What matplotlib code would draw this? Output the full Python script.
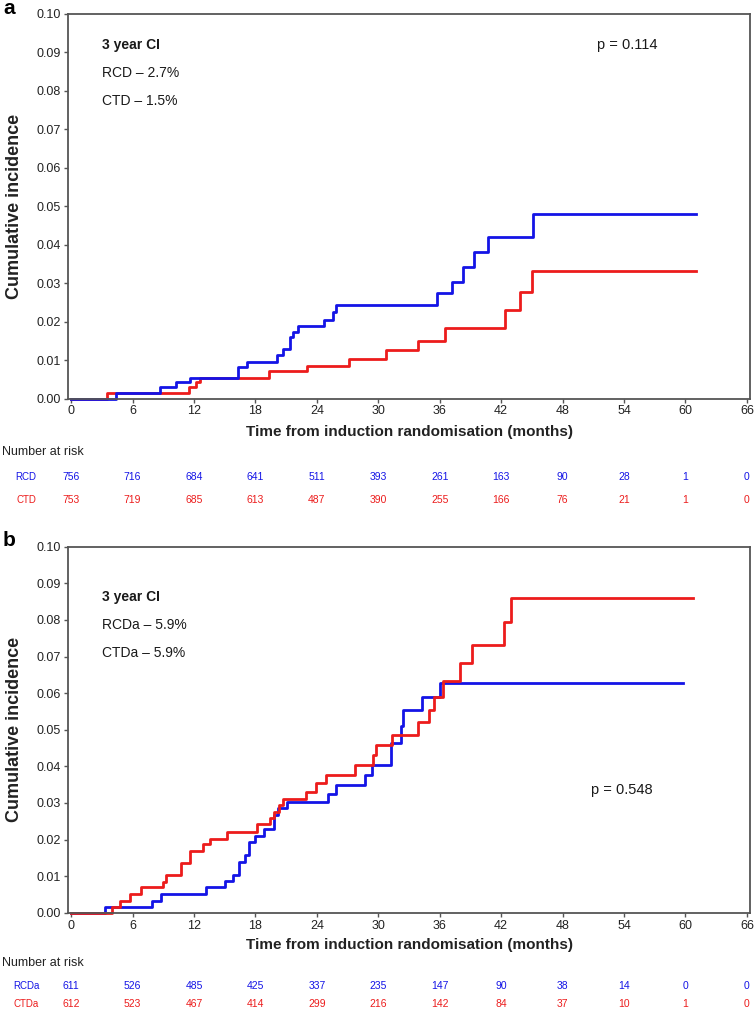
import matplotlib
matplotlib.use("Agg")
import matplotlib.pyplot as plt
from matplotlib.transforms import blended_transform_factory

# ---- panel a : cumulative incidence (months, value) ----
rcd_t = [0, 4.4, 8.7, 10.2, 11.6, 16.3, 17.2, 20.1, 20.7, 21.4, 21.7, 22.2, 24.7, 25.6, 25.9,
         35.7, 37.2, 38.3, 39.3, 40.7, 45.1, 61.0]
rcd_ci = [0, 0.0015, 0.0029, 0.0042, 0.0054, 0.0083, 0.0096, 0.0112, 0.0128, 0.0159, 0.0174, 0.0188,
          0.0205, 0.0225, 0.0244, 0.0274, 0.0304, 0.0342, 0.0381, 0.0420, 0.0480, 0.0480]
ctd_t = [0, 3.5, 11.5, 12.2, 12.6, 19.3, 23.0, 27.1, 30.8, 33.9, 36.5, 42.4, 43.8, 45.0, 61.0]
ctd_ci = [0, 0.0015, 0.0029, 0.0042, 0.0054, 0.0071, 0.0085, 0.0103, 0.0126, 0.0150, 0.0183,
          0.0229, 0.0278, 0.0332, 0.0332]

# ---- panel b ----
rcda_t = [0, 3.3, 7.9, 8.8, 13.2, 15.0, 15.8, 16.4, 17.0, 17.4, 18.0, 18.8, 19.8, 20.2, 21.1,
          25.1, 25.9, 28.7, 29.4, 31.2, 32.2, 32.4, 34.3, 36.0, 59.8]
rcda_ci = [0, 0.0016, 0.0033, 0.0051, 0.0069, 0.0087, 0.0103, 0.0139, 0.0158, 0.0194, 0.0210,
           0.0228, 0.0267, 0.0285, 0.0303, 0.0324, 0.0349, 0.0376, 0.0404, 0.0463, 0.0510,
           0.0554, 0.0590, 0.0627, 0.0627]
ctda_t = [0, 4.0, 4.8, 5.8, 6.8, 9.0, 9.3, 10.7, 11.6, 12.9, 13.6, 15.2, 18.2, 19.4, 19.8, 20.3,
          20.7, 22.9, 23.9, 24.9, 27.7, 29.5, 29.8, 31.3, 33.9, 35.0, 35.4, 36.3, 38.0, 39.2,
          42.3, 43.0, 60.7]
ctda_ci = [0, 0.0016, 0.0033, 0.0051, 0.0069, 0.0085, 0.0103, 0.0137, 0.0169, 0.0188, 0.0201,
           0.0221, 0.0242, 0.0258, 0.0276, 0.0294, 0.0312, 0.0331, 0.0354, 0.0376, 0.0404,
           0.0431, 0.0458, 0.0486, 0.0522, 0.0554, 0.0590, 0.0633, 0.0681, 0.0731, 0.0795,
           0.0861, 0.0861]

# number at risk
risk_times = [0, 6, 12, 18, 24, 30, 36, 42, 48, 54, 60, 66]
rcd_risk = [756, 716, 684, 641, 511, 393, 261, 163, 90, 28, 1, 0]
ctd_risk = [753, 719, 685, 613, 487, 390, 255, 166, 76, 21, 1, 0]
rcda_risk = [611, 526, 485, 425, 337, 235, 147, 90, 38, 14, 0, 0]
ctda_risk = [612, 523, 467, 414, 299, 216, 142, 84, 37, 10, 1, 0]

BLUE = "#1414e6"
RED = "#ec1c1c"
NARROW = ["Liberation Sans Narrow", "Liberation Sans", "DejaVu Sans"]
ARIAL = ["Liberation Sans", "DejaVu Sans"]
INK = "#1a1a1a"

W, H = 756, 1013
fig = plt.figure(figsize=(W / 100, H / 100), dpi=100)


def fy(px):
    # pixel row -> figure fraction
    return 1 - px / H


def panel(letter, top, bottom, t1, c1, t2, c2, names, cis, pval, pxy, risk1, risk2,
          xlab_y, nar_y, r1_y, r2_y, ci_y, red_under):
    ax = fig.add_axes([68 / W, fy(bottom), 682 / W, (bottom - top) / H])
    if red_under:
        ax.step(t2, c2, where="post", color=RED, lw=2.0, clip_on=False)
        ax.step(t1, c1, where="post", color=BLUE, lw=2.0, clip_on=False)
    else:
        ax.step(t1, c1, where="post", color=BLUE, lw=2.0, clip_on=False)
        ax.step(t2, c2, where="post", color=RED, lw=2.0, clip_on=False)
    ax.set_xlim(-0.3, 66.3)
    ax.set_ylim(0, 0.1)
    ax.set_xticks(risk_times)
    ax.set_yticks([i / 100 for i in range(11)])
    ax.set_yticklabels(["%.2f" % (i / 100) for i in range(11)])
    for s in ax.spines.values():
        s.set_color("#555555")
        s.set_linewidth(1.3)
    ax.tick_params(direction="out", length=3, width=1, color="#555555", labelsize=9,
                   labelcolor="#222222", pad=2)
    for lab in ax.get_xticklabels() + ax.get_yticklabels():
        lab.set_family(NARROW)

    # 3 year CI block and p value
    h = bottom - top
    ax.text(0.05, 1 - (ci_y - top) / h, "3 year CI", transform=ax.transAxes, fontsize=10,
            fontweight="bold", family=ARIAL, va="center", color=INK)
    for k in range(2):
        ax.text(0.05, 1 - (ci_y + 28 * (k + 1) - top) / h, names[k] + " \u2013 " + cis[k],
                transform=ax.transAxes, fontsize=10, family=ARIAL, va="center", color=INK)
    ax.text((pxy[0] - 68) / 682, 1 - (pxy[1] - top) / h, "p = " + pval,
            transform=ax.transAxes, fontsize=10.5, family=ARIAL, ha="center", va="center",
            color=INK)

    fig.text(3 / W, fy(top - 6), letter, fontsize=15, fontweight="bold", family=ARIAL,
             va="center", ha="left")
    fig.text(15 / W, fy((top + bottom) / 2), "Cumulative incidence", rotation=90,
             fontsize=13, fontweight="bold", family=ARIAL, ha="center", va="center",
             color="#222222")
    fig.text(409 / W, fy(xlab_y), "Time from induction randomisation (months)",
             fontsize=11, fontweight="bold", family=NARROW, ha="center", va="center",
             color="#222222")
    fig.text(2 / W, fy(nar_y), "Number at risk", fontsize=9, family=NARROW,
             ha="left", va="center", color="#222222")

    # number at risk table
    tr = blended_transform_factory(ax.transData, fig.transFigure)
    fig.text(26 / W, fy(r1_y), names[0], fontsize=7, family=ARIAL, color=BLUE,
             ha="center", va="center")
    fig.text(26 / W, fy(r2_y), names[1], fontsize=7, family=ARIAL, color=RED,
             ha="center", va="center")
    for t, a, b in zip(risk_times, risk1, risk2):
        ax.text(t, fy(r1_y), str(a), transform=tr, fontsize=7.5, family=ARIAL, color=BLUE,
                ha="center", va="center")
        ax.text(t, fy(r2_y), str(b), transform=tr, fontsize=7.5, family=ARIAL, color=RED,
                ha="center", va="center")
    return ax


panel("a", 14, 398.5, rcd_t, rcd_ci, ctd_t, ctd_ci, ["RCD", "CTD"], ["2.7%", "1.5%"],
      "0.114", (627, 45), rcd_risk, ctd_risk, 432, 452, 477, 500, 45, True)
panel("b", 546.7, 912.7, rcda_t, rcda_ci, ctda_t, ctda_ci, ["RCDa", "CTDa"], ["5.9%", "5.9%"],
      "0.548", (622, 790), rcda_risk, ctda_risk, 945, 963, 986, 1004, 597, False)

fig.savefig("out.png", dpi=100)
